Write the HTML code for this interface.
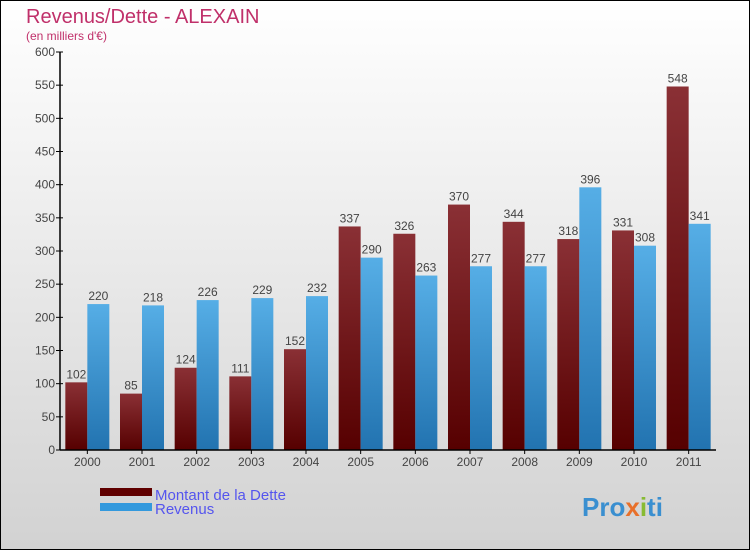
<!DOCTYPE html>
<html><head><meta charset="utf-8"><style>
body{margin:0;}
#c{width:750px;height:550px;position:relative;overflow:hidden;}
text{font-family:"Liberation Sans",sans-serif;}
</style></head><body>
<div id="c">
<svg id="s" width="750" height="550" xmlns="http://www.w3.org/2000/svg">
<defs>
<linearGradient id="bg" x1="0" y1="0" x2="0" y2="1"><stop offset="0" stop-color="#ffffff"/><stop offset="1" stop-color="#d2d2d2"/></linearGradient>
<linearGradient id="gd" x1="0" y1="0" x2="0" y2="1"><stop offset="0" stop-color="#8a3035"/><stop offset="1" stop-color="#560000"/></linearGradient>
<linearGradient id="gb" x1="0" y1="0" x2="0" y2="1"><stop offset="0" stop-color="#56aee6"/><stop offset="1" stop-color="#2273b0"/></linearGradient>
</defs>
<rect x="0.5" y="0.5" width="749" height="549" fill="url(#bg)" stroke="#000"/>
<text x="26" y="23" font-size="20" fill="#c0306a">Revenus/Dette - ALEXAIN</text>
<text x="26" y="40" font-size="12" fill="#c0306a">(en milliers d'€)</text>
<g id="plot"></g>
<rect x="100" y="488" width="52" height="8" fill="#600000"/>
<text x="155" y="500" font-size="15" fill="#5555ee">Montant de la Dette</text>
<rect x="100" y="503" width="52" height="8" fill="#3399dd"/>
<text x="155" y="514" font-size="15" fill="#5555ee">Revenus</text>
<text x="582" y="516" font-size="26" font-weight="bold" fill="#3a8fd0">Pro<tspan fill="#e8702a">x</tspan><tspan fill="#88bb33">i</tspan>ti</text>
</svg>
</div>
<script>
const categories=["2000","2001","2002","2003","2004","2005","2006","2007","2008","2009","2010","2011"];
const dette=[102,85,124,111,152,337,326,370,344,318,331,548];
const revenus=[220,218,226,229,232,290,263,277,277,396,308,341];
const yTicks=[0,50,100,150,200,250,300,350,400,450,500,550,600];
const NS="http://www.w3.org/2000/svg";
const g=document.getElementById('plot');
const x0=60,x1=716,y0=450,y1=52,ymax=600;
const step=(x1-x0)/categories.length;
const yS=v=>y0-(v/ymax)*(y0-y1);
const xC=i=>x0+step*(i+0.5);
function mk(t,a){const e=document.createElementNS(NS,t);for(const k in a)e.setAttribute(k,a[k]);g.appendChild(e);return e;}
yTicks.forEach(v=>{
  const l=mk('line',{x1:x0-4,x2:x0+3,y1:yS(v),y2:yS(v),stroke:'#000'});
  
  
  const t=mk('text',{x:x0-5,y:yS(v)+4,'font-size':12,fill:'#444','text-anchor':'end'});
  t.textContent=v;
  
  
});
categories.forEach((c,i)=>{
  const cx=xC(i),bw=22;
  const yd=yS(dette[i]),yr=yS(revenus[i]);
  const b1=mk('rect',{x:cx-bw,y:yd,width:bw,height:y0-yd,fill:'url(#gd)'});
  
  
  const b2=mk('rect',{x:cx,y:yr,width:bw,height:y0-yr,fill:'url(#gb)'});
  
  
  const t1=mk('text',{x:cx-bw/2,y:yd-4,'font-size':12,fill:'#444','text-anchor':'middle'});
  t1.textContent=dette[i];
  
  
  const t2=mk('text',{x:cx+bw/2,y:yr-4,'font-size':12,fill:'#444','text-anchor':'middle'});
  t2.textContent=revenus[i];
  
  
  const tk=mk('line',{x1:cx,x2:cx,y1:y0,y2:y0+4,stroke:'#000'});
  
  
  const tl=mk('text',{x:cx,y:y0+16,'font-size':12,fill:'#444','text-anchor':'middle'});
  tl.textContent=c;
  
  
});
const ya=mk('line',{x1:x0,x2:x0,y1:y1,y2:y0,stroke:'#000','stroke-width':1.5});


const xa=mk('line',{x1:x0,x2:x1,y1:y0,y2:y0,stroke:'#000','stroke-width':1.5});


</script>
</body></html>
